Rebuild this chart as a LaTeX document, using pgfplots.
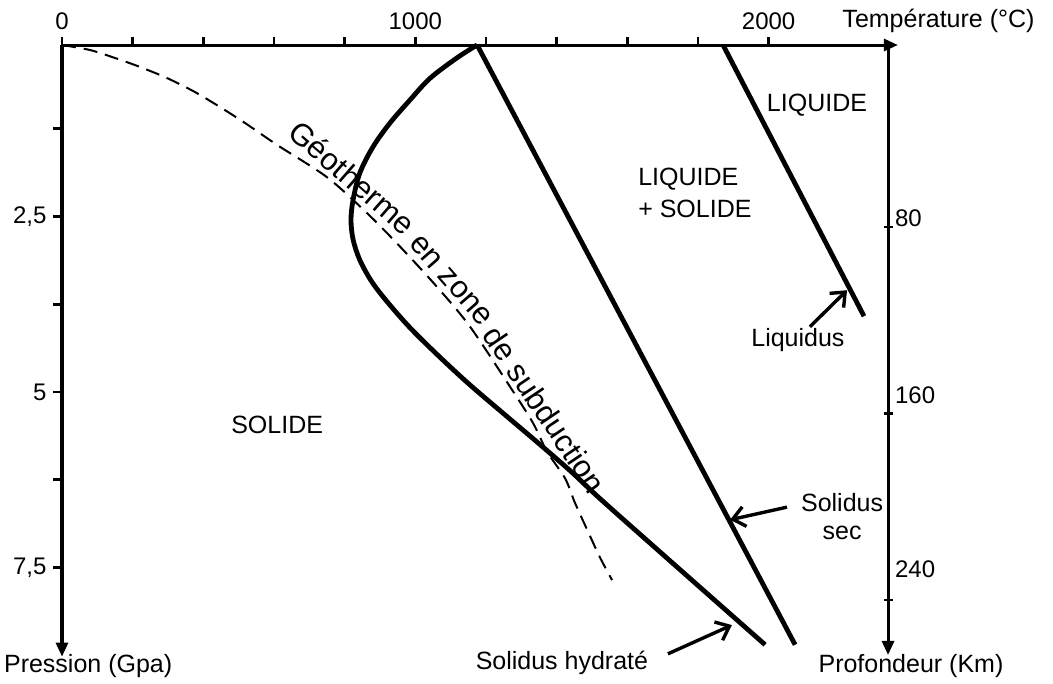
\documentclass[border=0pt]{standalone}
\usepackage{fontspec}
\setmainfont{Liberation Sans}
\usepackage{pgfplots}
\pgfplotsset{compat=1.18}
\usetikzlibrary{arrows.meta}
\tikzset{geo/.style={inner sep=0pt, text height=11pt, text depth=0pt, font=\fontsize{15.5}{18}\selectfont}}

\begin{document}
\begin{tikzpicture}
\path[use as bounding box] (0pt,0pt) rectangle (526.5pt,-342pt);
% main axis: temperature (top) vs pressure (left)
\begin{axis}[
  at={(31pt,-22.5pt)}, anchor=north west,
  x=0.17665pt, y=35.1pt, y dir=reverse,
  xmin=0, xmax=2366, ymin=0.057, ymax=8.77,
  axis x line=top, axis y line=left,
  axis line style={line width=1.5pt, -{Triangle[length=7pt,width=6pt]}},
  clip=false,
  xtick={0,200,...,2000}, xticklabels={0,,,,,1000,,,,,2000},
  ytick={1.25,2.5,3.75,5,6.25,7.5}, yticklabels={,{2,5},,5,,{7,5}},
  tick align=outside, major tick length=4.25pt,
  every tick/.style={black, line width=1.3pt},
  ticklabel style={font=\fontsize{12}{14}\selectfont},
  font=\fontsize{12.5}{15}\selectfont,
]
% Liquidus
\addplot[line width=2.4pt, black] coordinates {(1871,0.057) (2270,3.92)};
% Solidus sec
\addplot[line width=2.4pt, black] coordinates {(1175,0.057) (2075,8.60)};
% Solidus hydrate
\addplot[line width=2.4pt, black, smooth, tension=0.55, line join=round] coordinates {
 (1175,0.057) (1118,0.24) (1042,0.53) (985,0.84) (928,1.17) (880,1.51) (843,1.88)
 (824,2.26) (818,2.55) (824,2.83) (843,3.12) (877,3.43) (923,3.73) (988,4.10)
 (1073,4.52) (1155,4.90) (1248,5.30) (1344,5.71) (1438,6.12) (1523,6.52)
 (1693,7.28) (1990,8.60)};
% Geotherme
\addplot[line width=1pt, black, smooth, dash pattern=on 7pt off 4pt] coordinates {
 (0,0.057) (79,0.128) (150,0.242) (221,0.37) (297,0.527) (376,0.726) (447,0.94)
 (518,1.168) (609,1.481) (750,1.94)
 (863,2.45) (957,2.93) (1061,3.50) (1155,4.07) (1274,4.97) (1333,5.44)
 (1373,5.85) (1424,6.23) (1452,6.58) (1489,6.99) (1523,7.36) (1557,7.68)};
% label following the geotherm
\node[geo, rotate=-41] at (822,1.947) {Géotherme};
\node[geo, rotate=-49] at (1107,3.383) {en zone};
\node[geo, rotate=-56] at (1366,5.248) {de subduction};
% labels
\node[anchor=west, inner sep=0pt] at (2208,-0.28) {Température (°C)};
\node at (2137,0.91) {LIQUIDE};
\node[anchor=west, inner sep=0pt] at (1630,1.97) {LIQUIDE};
\node[anchor=west, inner sep=0pt] at (1630,2.39) {+ SOLIDE};
\node at (609,5.47) {SOLIDE};
\node at (2083,4.26) {Liquidus};
\node at (2208,6.57) {Solidus};
\node at (2208,7.01) {sec};
\node at (1415,8.86) {Solidus hydraté};
\node at (74,8.90) {Pression (Gpa)};
\node at (2403,8.90) {Profondeur (Km)};
% annotation arrows
\draw[line width=1.7pt, -{Straight Barb[length=6pt,width=10pt]}] (2117,4.07) -- (2222,3.55);
\draw[line width=1.7pt, -{Straight Barb[length=6pt,width=10pt]}] (2052,6.64) -- (1891,6.82);
\draw[line width=1.7pt, -{Straight Barb[length=6pt,width=10pt]}] (1715,8.73) -- (1896,8.32);
\end{axis}
% right axis: depth
\begin{axis}[
  at={(31pt,-22.5pt)}, anchor=north west,
  x=0.17665pt, y=1.1655pt, y dir=reverse,
  xmin=0, xmax=2338, ymin=1.93, ymax=263.6,
  axis x line=none, axis y line=right,
  axis line style={line width=1.5pt, -{Triangle[length=7pt,width=6pt]}},
  ytick={80,160,240}, yticklabels={,,},
  tick align=center, major tick length=4.5pt,
  every tick/.style={black, line width=1.3pt},
  extra y ticks={76.1,152.1,226.7}, extra y tick labels={80,160,240},
  extra y tick style={major tick length=0pt},
  ticklabel style={font=\fontsize{12}{14}\selectfont},
]
\end{axis}
\end{tikzpicture}
\end{document}
